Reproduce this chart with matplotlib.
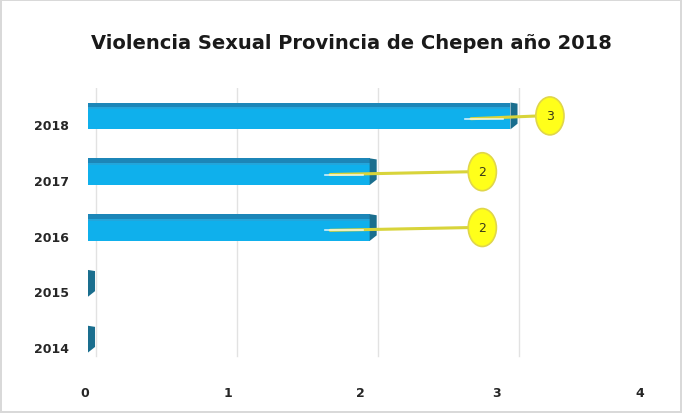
import matplotlib.pyplot as plt
import matplotlib.transforms as mtransforms
import numpy as np
from matplotlib.patches import Ellipse, Polygon

years = ["2014", "2015", "2016", "2017", "2018"]
cases = [0, 0, 2, 2, 3]
x_ticks = [0, 1, 2, 3, 4]

# where Excel dragged the data labels (offset from bar end, in data units)
label_dx = [None, None, 0.80, 0.80, 0.28]

BAR = "#0FB0EC"
BAR_TOP = "#1C86B8"
CAP = "#1A6E8E"

fig = plt.figure(figsize=(6.82, 4.14), dpi=100)
fig.patch.set_edgecolor("#d9d9d9")
fig.patch.set_linewidth(1.5)
ax = fig.add_axes([0.129, 0.111, 0.826, 0.674])

y = np.arange(len(years))
h = 0.48
ax.set_xlim(0, 4)
ax.set_ylim(-0.5, len(years) - 0.5)

for xv in x_ticks:
    ax.axvline(xv + 0.06, color="#e2e2e2", lw=1, zorder=0, ymin=0.04, ymax=1.0)

ax.barh(y, cases, height=h, color=BAR, edgecolor="none", zorder=2)
# darker top strip to fake the 3D look
ax.barh(y + h / 2 - 0.04, cases, height=0.08, color=BAR_TOP, edgecolor="none", zorder=2.5)
ax.barh(y + h / 2 - 0.1, cases, height=0.04, color="#22A6DC", edgecolor="none", zorder=2.6)

# end caps (side face of the 3D bar)
dx, dy = 0.05, 0.1
for yi, v in zip(y, cases):
    cap = Polygon([(v, yi - h / 2), (v, yi + h / 2), (v + dx, yi + h / 2 - 0.02),
                   (v + dx, yi - h / 2 + dy)], closed=True,
                  facecolor=CAP, edgecolor="none", zorder=3)
    ax.add_patch(cap)

# callout labels
for yi, v, off in zip(y, cases, label_dx):
    if off is None:
        continue
    lx = v + off
    ax.plot([v - 0.28, lx - 0.08], [yi - 0.05, yi], color="#d8d43a", lw=2.2,
            solid_capstyle="round", zorder=4)
    ax.plot([v - 0.32, v - 0.05], [yi - 0.05, yi - 0.05], color="white", lw=1.2,
            alpha=0.8, zorder=4)
    ax.add_patch(Ellipse((lx, yi), 0.2, 0.68, facecolor="#FFFF1A",
                         edgecolor="#E0D64A", lw=1.2, zorder=5))
    ax.text(lx, yi, str(v), ha="center", va="center", fontsize=9,
            color="#3a3a1a", zorder=6)

ax.set_yticks(y)
ax.set_yticklabels(years, fontsize=9, fontweight="bold", color="#262626")
ax.set_xticks(x_ticks)
ax.set_xticklabels([str(t) for t in x_ticks], fontsize=9, fontweight="bold", color="#262626")
ax.tick_params(axis="y", length=0, pad=14)
ax.tick_params(axis="x", length=0, pad=14)
shift = mtransforms.ScaledTranslation(0, -8 / 100, fig.dpi_scale_trans)
for lab in ax.get_yticklabels():
    lab.set_transform(lab.get_transform() + shift)
xshift = [-3, -1, -9, -14, -11]
for lab, s in zip(ax.get_xticklabels(), xshift):
    lab.set_transform(lab.get_transform() +
                      mtransforms.ScaledTranslation(s / 100, 0, fig.dpi_scale_trans))
for s in ax.spines.values():
    s.set_visible(False)

fig.text(0.515, 0.895, "Violencia Sexual Provincia de Chepen año 2018",
         ha="center", va="center", fontsize=14, fontweight="bold", color="#1a1a1a")

fig.savefig("out.png", dpi=100)
